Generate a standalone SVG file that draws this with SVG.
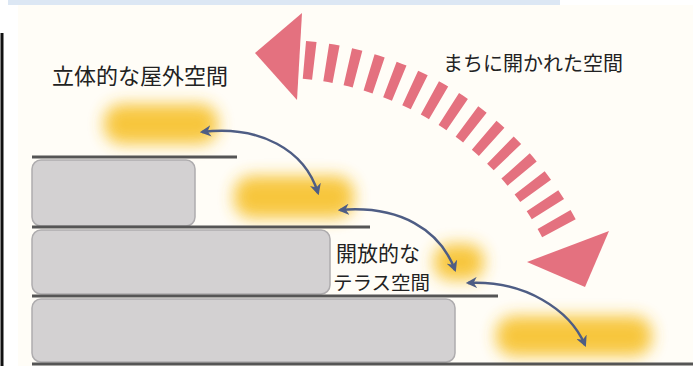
<svg xmlns="http://www.w3.org/2000/svg" width="693" height="366" viewBox="0 0 693 366">
<style>
.shelf{stroke:#555;stroke-width:3;fill:none}
.box{fill:#d3d1d2;stroke:#aeacae;stroke-width:1.5}
.glow{fill:#f7c22e;filter:url(#blur);opacity:0.92}
.conn{fill:none;stroke:#4e5d84;stroke-width:2.5;marker-start:url(#ah);marker-end:url(#ah)}
.lbl{font-family:"Noto Sans CJK JP","Noto Sans",sans-serif;fill:#222}
.pink{fill:#e4717f}
</style>
<defs>
<filter id="blur" x="-40%" y="-80%" width="180%" height="260%"><feGaussianBlur stdDeviation="8"/></filter>
<marker id="ah" viewBox="0 0 10 10" refX="8" refY="5" markerWidth="4.5" markerHeight="4.5" orient="auto-start-reverse"><path d="M0,0 L10,5 L0,10 L3,5 Z" fill="#4e5d84"/></marker>
</defs>
<rect x="0" y="0" width="693" height="366" fill="#ffffff"/>
<rect x="18" y="5" width="675" height="361" fill="#fffdf7"/>
<rect x="8" y="0" width="552" height="5" fill="#dce7f4"/>
<line x1="2" y1="33" x2="2" y2="366" stroke="#111" stroke-width="3"/>

<g id="glows">
<rect class="glow" x="104" y="104" width="114" height="40" rx="18"/>
<rect class="glow" x="234" y="176" width="120" height="42" rx="18"/>
<rect class="glow" x="434" y="244" width="50" height="36" rx="16"/>
<rect class="glow" x="496" y="316" width="156" height="40" rx="18"/>
</g>

<g id="tier1">
<rect class="box" x="32" y="160" width="163" height="66" rx="9"/>
<line class="shelf" x1="32" y1="157" x2="237" y2="157"/>
</g>
<g id="tier2">
<rect class="box" x="32" y="230" width="298" height="64" rx="9"/>
<line class="shelf" x1="32" y1="227" x2="370" y2="227"/>
</g>
<g id="tier3">
<rect class="box" x="32" y="299" width="423" height="63" rx="9"/>
<line class="shelf" x1="32" y1="296" x2="498" y2="296"/>
</g>
<line class="shelf" x1="32" y1="364" x2="693" y2="364"/>

<g id="open-arrow">
<path d="M304.4,59.9 A320,320 0 0 1 564.1,238.4" fill="none" stroke="#e4717f" stroke-width="38" stroke-dasharray="10 12"/>
<polygon class="pink" points="302,13 255,53 297,100"/>
<polygon class="pink" points="609,231 527,262 585,287"/>
</g>

<g id="connectors">
<path class="conn" d="M202,132 C260,125 305,150 318,193"/>
<path class="conn" d="M340,210 C400,205 440,230 455,270"/>
<path class="conn" d="M468,283 C525,280 570,310 585,345"/>
</g>

<g id="label-3d"><text class="lbl" x="52" y="84" font-size="22">立体的な屋外空間</text></g>
<g id="label-town"><text class="lbl" x="443" y="71" font-size="20">まちに開かれた空間</text></g>
<g id="label-terrace">
<text class="lbl" x="336" y="261" font-size="21">開放的な</text>
<text class="lbl" x="333" y="290" font-size="19.5">テラス空間</text>
</g>
</svg>
